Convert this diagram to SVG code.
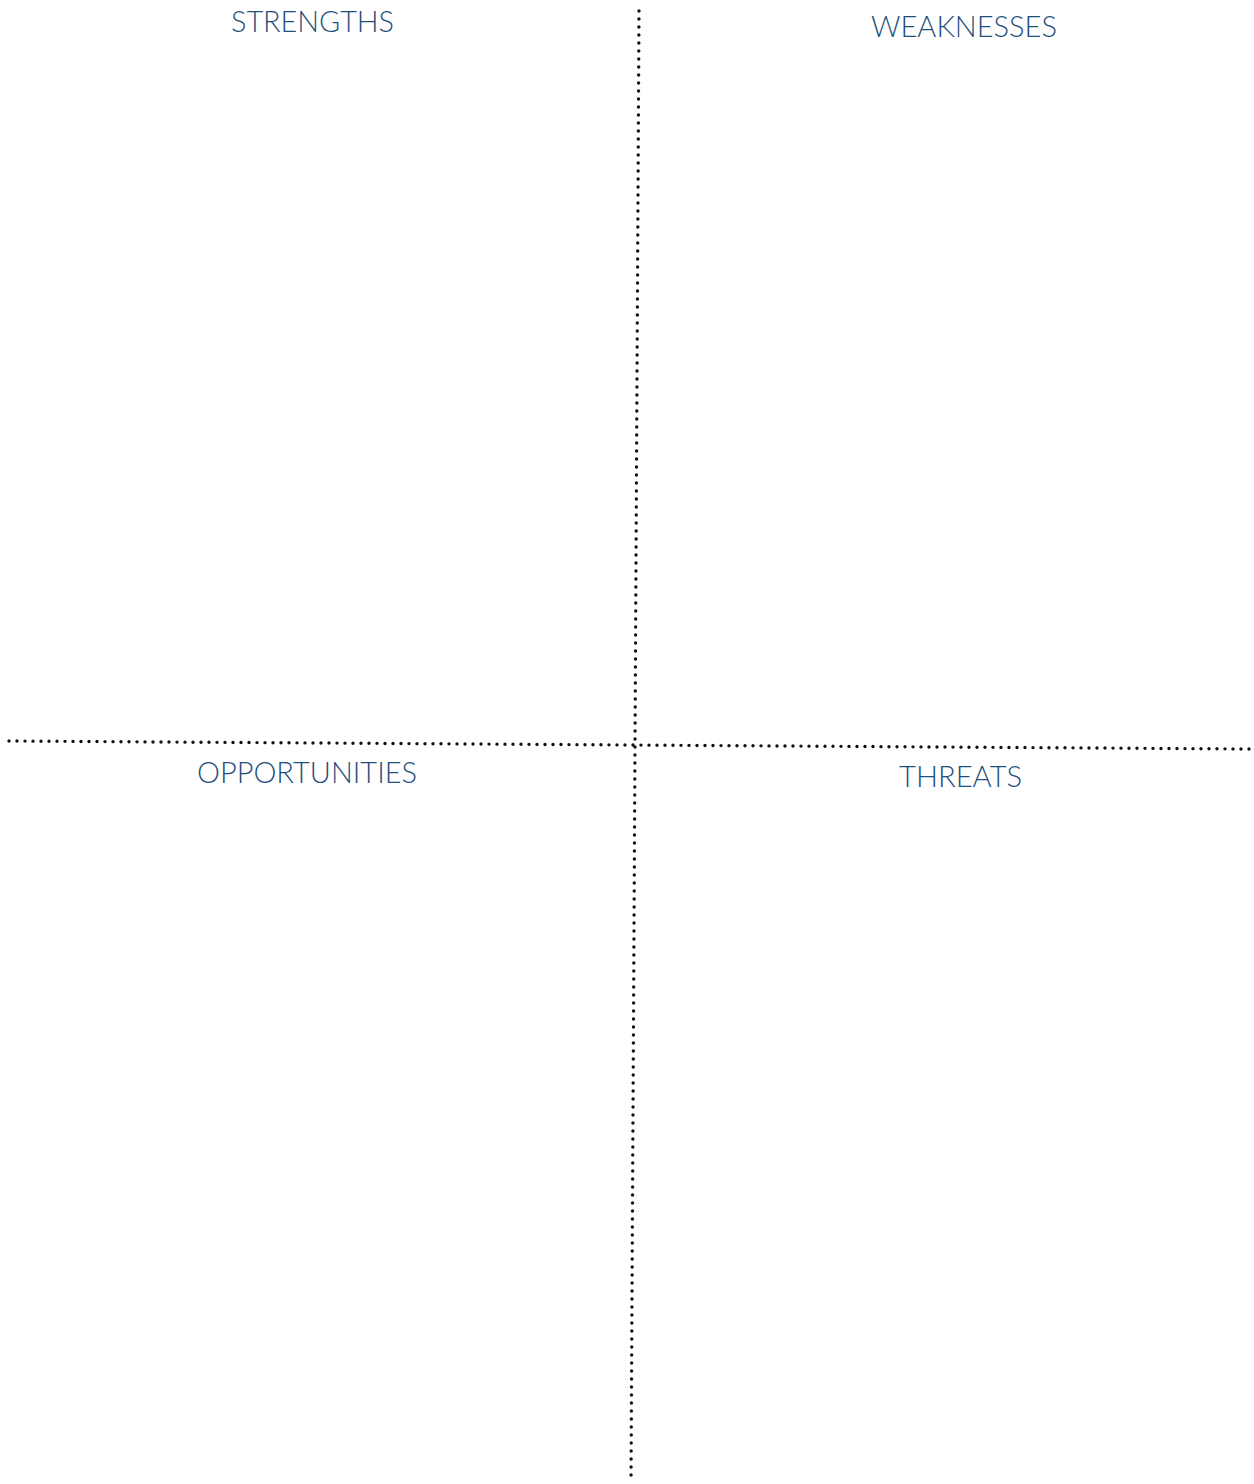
<svg xmlns="http://www.w3.org/2000/svg" width="1254" height="1484" viewBox="0 0 1254 1484">
<style>
.lbl{font-family:Lato,"Open Sans","Liberation Sans",sans-serif;font-weight:300;font-size:29px;fill:#1f4f7d}
.div{stroke:#111;stroke-width:3.4;stroke-linecap:round;stroke-dasharray:0 8;fill:none}
</style>
<rect width="1254" height="1484" fill="#fff"/>
<g id="connectors">
<line class="div" x1="639" y1="11" x2="631" y2="1482"/>
<line class="div" x1="9" y1="741" x2="1249" y2="749"/>
</g>
<g id="strengths"><text class="lbl" x="231" y="32" textLength="163" lengthAdjust="spacingAndGlyphs">STRENGTHS</text></g>
<g id="weaknesses"><text class="lbl" x="871" y="37" textLength="186" lengthAdjust="spacingAndGlyphs">WEAKNESSES</text></g>
<g id="opportunities"><text class="lbl" x="197" y="783" textLength="220" lengthAdjust="spacingAndGlyphs">OPPORTUNITIES</text></g>
<g id="threats"><text class="lbl" x="899" y="787" textLength="123" lengthAdjust="spacingAndGlyphs">THREATS</text></g>
</svg>
